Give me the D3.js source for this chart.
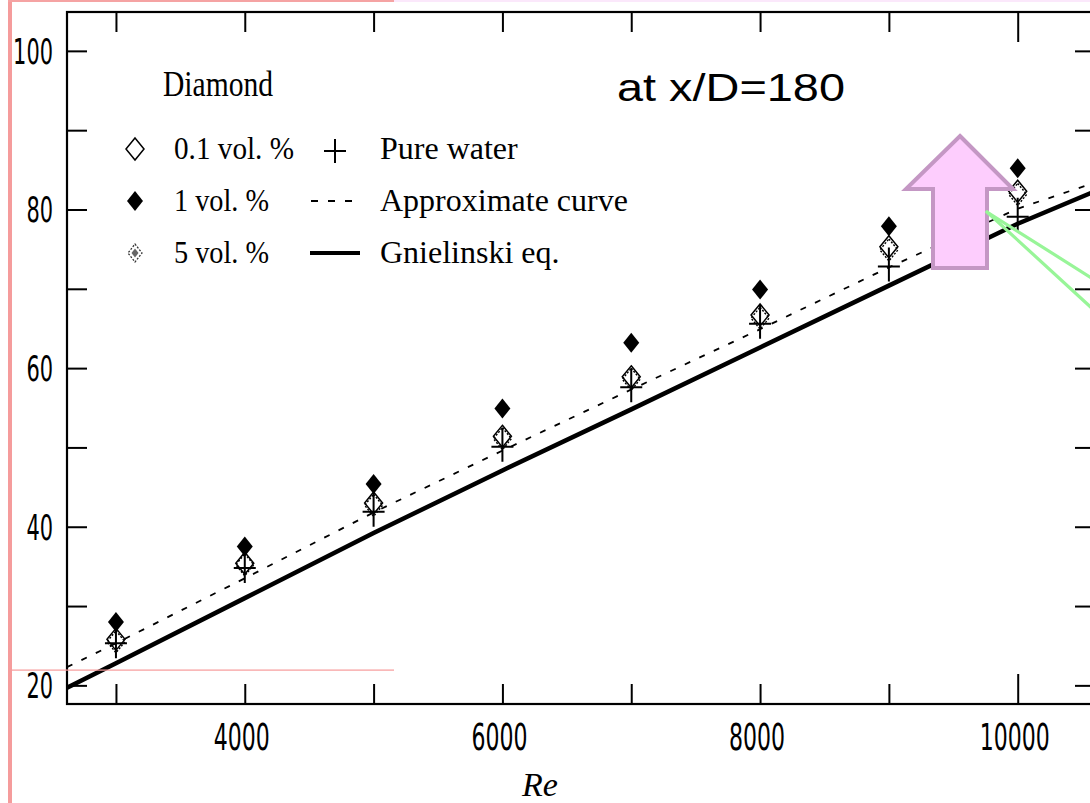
<!DOCTYPE html>
<html>
<head>
<meta charset="utf-8">
<script src="https://cdn.jsdelivr.net/npm/d3@7/dist/d3.min.js"></script>
<style>
  html, body { margin: 0; padding: 0; background: #fff; }
  svg { display: block; }
</style>
</head>
<body>
<svg id="chart" width="1090" height="803"></svg>
<script>
// Reynolds numbers at which the measurements were taken
const reynolds = [3000, 4000, 5000, 6000, 7000, 8000, 9000, 10000];
// Nusselt numbers for each nanofluid concentration and for pure water
const nuDiamond01 = [25.8, 35.4, 43.0, 51.4, 58.9, 66.7, 75.3, 82.3];
const nuDiamond1  = [28.0, 37.5, 45.4, 54.9, 63.2, 69.9, 77.9, 85.2];
const nuDiamond5  = [25.5, 35.2, 42.7, 51.1, 58.6, 66.3, 74.9, 81.9];
const nuWater     = [25.3, 34.8, 41.9, 50.1, 57.6, 65.6, 72.8, 79.1];
// Curves: approximate fit (dashed) and Gnielinski correlation (solid)
const curveRe     = [2620, 3000, 4000, 5000, 6000, 7000, 8000, 9000, 10000, 10600];
const nuApprox    = [22.3, 25.3, 33.5, 41.8, 49.6, 57.3, 64.9, 72.7, 80.1, 83.4];
const nuGnielinski= [19.7, 22.8, 31.0, 39.2, 47.1, 54.8, 62.6, 70.4, 78.2, 82.3];
// Axis ticks
const xTicks = [3000, 4000, 5000, 6000, 7000, 8000, 9000, 10000];
const xTickLabels = [4000, 6000, 8000, 10000];
const yTicks = [20, 30, 40, 50, 60, 70, 80, 90, 100];
const yTickLabels = [20, 40, 60, 80, 100];

const svg = d3.select("#chart");
const plotL = 67, plotR = 1095, plotT = 12, plotB = 704;

const x = d3.scaleLinear().domain([2620, 10600]).range([plotL, plotR]);
const y = d3.scaleLinear().domain([17.65, 104.9]).range([plotB, plotT]);

// Slide decorations (pink frame lines)
svg.append("rect").attr("x", 8).attr("y", 0).attr("width", 4).attr("height", 803).attr("fill", "#f59c9c");
svg.append("rect").attr("x", 8).attr("y", 0).attr("width", 386).attr("height", 2).attr("fill", "#f5a3a3");
svg.append("rect").attr("x", 394).attr("y", 0).attr("width", 700).attr("height", 2).attr("fill", "#fbe8fb");

svg.append("clipPath").attr("id", "plotclip")
  .append("rect").attr("x", plotL).attr("y", plotT).attr("width", plotR - plotL).attr("height", plotB - plotT);

// Frame + ticks
const tickLen = 20;
const axisColor = "#000";
svg.append("rect").attr("x", plotL).attr("y", plotT).attr("width", plotR - plotL).attr("height", plotB - plotT)
  .attr("fill", "none").attr("stroke", axisColor).attr("stroke-width", 2.2);

function styleAxis(g) {
  g.select(".domain").remove();
  g.selectAll(".tick line").attr("stroke", axisColor).attr("stroke-width", 2);
  g.selectAll(".tick text").remove();
}
const xLen = d => d === 10000 ? 30 : tickLen;

svg.append("g").attr("transform", `translate(0,${plotB})`)
  .call(d3.axisTop(x).tickValues(xTicks).tickSize(tickLen)).call(styleAxis)
  .selectAll(".tick line").attr("y2", d => -xLen(d));
svg.append("g").attr("transform", `translate(0,${plotT})`)
  .call(d3.axisBottom(x).tickValues(xTicks).tickSize(tickLen)).call(styleAxis)
  .selectAll(".tick line").attr("y2", d => xLen(d));
svg.append("g").attr("transform", `translate(${plotL},0)`)
  .call(d3.axisRight(y).tickValues(yTicks).tickSize(tickLen)).call(styleAxis);
svg.append("g").attr("transform", `translate(${plotR},0)`)
  .call(d3.axisLeft(y).tickValues(yTicks).tickSize(tickLen)).call(styleAxis);

// Tick labels in a narrow sans face
const narrow = "'Liberation Sans Narrow', 'DejaVu Sans Condensed', 'Liberation Sans', sans-serif";
svg.append("g").selectAll("text").data(yTickLabels).join("text")
  .attr("x", 53).attr("y", d => y(d) + 13)
  .attr("text-anchor", "end")
  .attr("font-family", narrow).attr("font-size", 36)
  .attr("textLength", d => String(d).length * 13.3).attr("lengthAdjust", "spacingAndGlyphs")
  .text(d => d);
svg.append("g").selectAll("text").data(xTickLabels).join("text")
  .attr("x", d => x(d) - 3).attr("y", 750)
  .attr("text-anchor", "middle")
  .attr("font-family", narrow).attr("font-size", 37)
  .attr("textLength", d => String(d).length * 14).attr("lengthAdjust", "spacingAndGlyphs")
  .text(d => d);

const serif = "'Liberation Serif', 'Times New Roman', serif";
svg.append("text").attr("x", 540).attr("y", 796).attr("text-anchor", "middle")
  .attr("font-family", serif).attr("font-style", "italic").attr("font-size", 34)
  .text("Re");

// Curves
const plot = svg.append("g").attr("clip-path", "url(#plotclip)");
const curveLine = vals => d3.line().x((d, i) => x(curveRe[i])).y((d, i) => y(vals[i]))(vals);
plot.append("path").attr("d", curveLine(nuApprox))
  .attr("fill", "none").attr("stroke", "#000").attr("stroke-width", 1.8)
  .attr("stroke-dasharray", "6,10");
plot.append("path").attr("d", curveLine(nuGnielinski))
  .attr("fill", "none").attr("stroke", "#000").attr("stroke-width", 4.5);

// Marker shapes
const diamond = (cx, cy, hw, hh) => `M${cx},${cy - hh}L${cx + hw},${cy}L${cx},${cy + hh}L${cx - hw},${cy}Z`;
const plus = (cx, cy, up = 19, down = 15) => `M${cx - 11},${cy}H${cx + 11}M${cx},${cy - up}V${cy + down}`;

const pts = vals => reynolds.map((r, i) => ({ px: x(r), py: y(vals[i]) }));

plot.append("g").selectAll("path").data(pts(nuWater)).join("path")
  .attr("d", d => plus(d.px, d.py)).attr("stroke", "#000").attr("stroke-width", 2).attr("fill", "none");
plot.append("g").selectAll("path").data(pts(nuDiamond5)).join("path")
  .attr("d", d => diamond(d.px, d.py, 9, 11)).attr("stroke", "#000").attr("stroke-width", 1.4)
  .attr("stroke-dasharray", "2,1.6").attr("fill", "none");
plot.append("g").selectAll("path").data(pts(nuDiamond01)).join("path")
  .attr("d", d => diamond(d.px, d.py, 9, 11)).attr("stroke", "#000").attr("stroke-width", 1.5).attr("fill", "none");
plot.append("g").selectAll("path").data(pts(nuDiamond1)).join("path")
  .attr("d", d => diamond(d.px, d.py, 8, 10)).attr("fill", "#000");

// Legend
const lg = svg.append("g").attr("font-family", serif);
lg.append("text").attr("x", 163).attr("y", 96).attr("font-size", 36)
  .attr("textLength", 110).attr("lengthAdjust", "spacingAndGlyphs").text("Diamond");
const rowY = [149, 201, 253];
lg.append("path").attr("d", diamond(135, rowY[0], 9, 11)).attr("stroke", "#000").attr("stroke-width", 1.5).attr("fill", "none");
lg.append("path").attr("d", diamond(135, rowY[1], 8, 10)).attr("fill", "#000");
lg.append("path").attr("d", diamond(135, rowY[2], 7, 9)).attr("stroke", "#333").attr("stroke-width", 1.3)
  .attr("stroke-dasharray", "2,1.5").attr("fill", "none");
lg.append("path").attr("d", diamond(135, rowY[2], 3.5, 4.5)).attr("fill", "#666");
const leftLabels = ["0.1 vol. %", "1 vol. %", "5 vol. %"];
const leftWidths = [120, 95, 95];
lg.selectAll("text.l").data(leftLabels).join("text").attr("class", "l")
  .attr("x", 174).attr("y", (d, i) => rowY[i] + 10).attr("font-size", 31)
  .attr("textLength", (d, i) => leftWidths[i]).attr("lengthAdjust", "spacingAndGlyphs")
  .text(d => d);
lg.append("path").attr("d", plus(335, rowY[0] + 2, 12, 12)).attr("stroke", "#000").attr("stroke-width", 2).attr("fill", "none");
lg.append("line").attr("x1", 311).attr("x2", 353).attr("y1", rowY[1]).attr("y2", rowY[1])
  .attr("stroke", "#000").attr("stroke-width", 1.8).attr("stroke-dasharray", "7,10");
lg.append("line").attr("x1", 310).attr("x2", 360).attr("y1", rowY[2]).attr("y2", rowY[2])
  .attr("stroke", "#000").attr("stroke-width", 4);
const rightLabels = ["Pure water", "Approximate curve", "Gnielinski eq."];
lg.selectAll("text.r").data(rightLabels).join("text").attr("class", "r")
  .attr("x", 380).attr("y", (d, i) => rowY[i] + 10).attr("font-size", 32)
  .text(d => d);

// Slide annotation: position label, arrow and pointer lines
svg.append("text").attr("x", 617).attr("y", 101)
  .attr("font-family", "'Liberation Sans', Arial, sans-serif").attr("font-size", 38)
  .attr("textLength", 228).attr("lengthAdjust", "spacingAndGlyphs")
  .text("at x/D=180");

svg.append("path")
  .attr("d", "M960,136L1013,189H987V268H933V189H906Z")
  .attr("fill", "#fdcdfd").attr("stroke", "#c497c4").attr("stroke-width", 4).attr("stroke-linejoin", "miter");

svg.append("g").attr("stroke", "#98f598").attr("stroke-width", 3.2).attr("stroke-linecap", "round")
  .selectAll("line").data([[1120, 296], [1120, 334]]).join("line")
  .attr("x1", 987).attr("y1", 212).attr("x2", d => d[0]).attr("y2", d => d[1]);

// Thin pink guide line across the lower left
svg.append("rect").attr("x", 12).attr("y", 669.5).attr("width", 382).attr("height", 1.2).attr("fill", "#f79a9a");
</script>
</body>
</html>
